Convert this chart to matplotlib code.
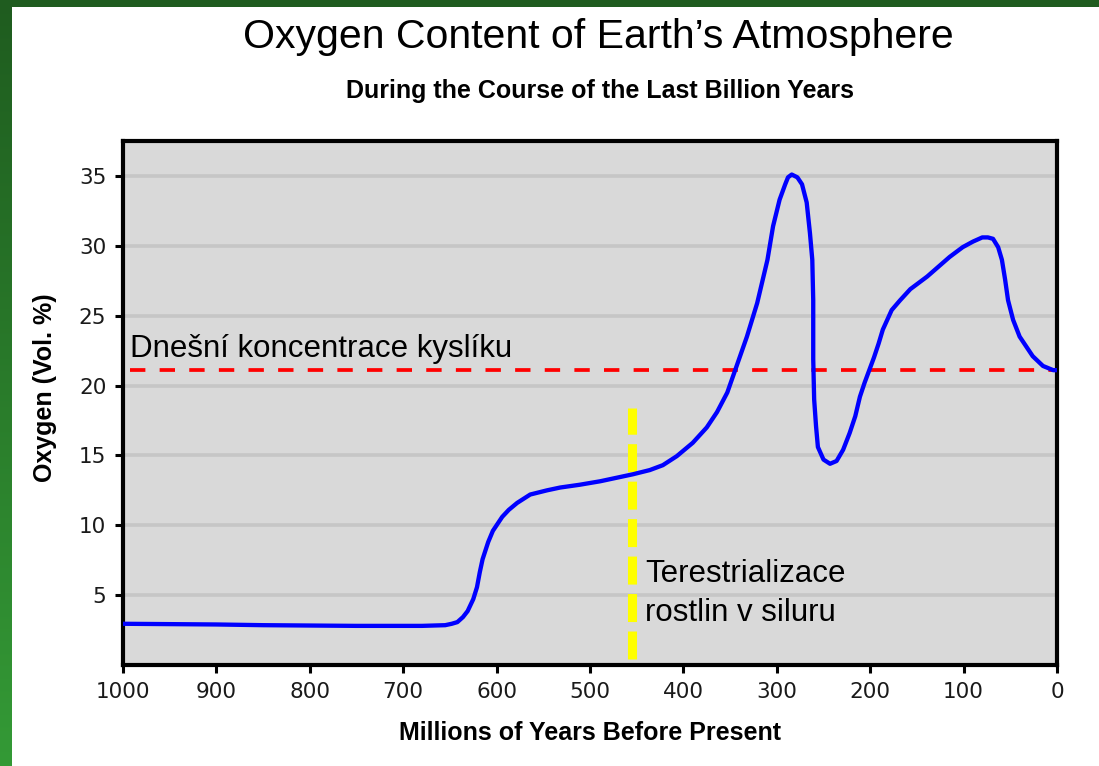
import numpy as np
import matplotlib as mpl
mpl.use('Agg')
import matplotlib.pyplot as plt
from matplotlib.colors import LinearSegmentedColormap

# Oxygen curve (millions of years before present, vol. %)
age = [1000, 900, 850, 750, 680, 655, 648, 642, 636, 631, 625, 621, 618, 615,
       609, 604, 600, 594, 587, 578, 564, 546, 532, 511, 489, 475, 454, 436,
       422, 407, 390, 375, 364, 353, 343, 332, 321, 310, 304, 297, 291, 288,
       284, 278, 273, 268, 264.5, 262, 261, 261, 260, 258, 256, 250, 243, 236,
       229, 222, 216, 211, 206, 201, 196, 191, 186.5, 177, 168, 157, 139, 115,
       101, 90, 80, 74, 68.5, 63, 59, 55.6, 52.4, 47, 40, 32, 26, 15, 4, 0]
oxygen = [2.95, 2.9, 2.85, 2.8, 2.8, 2.85, 2.95, 3.07, 3.43, 3.86, 4.71, 5.57,
          6.64, 7.57, 8.8, 9.6, 10.0, 10.6, 11.1, 11.6, 12.2, 12.5, 12.7,
          12.9, 13.15, 13.35, 13.65, 13.95, 14.3, 14.95, 15.9, 17.0, 18.1,
          19.5, 21.4, 23.5, 25.9, 29.0, 31.4, 33.3, 34.4, 34.9, 35.1, 34.9,
          34.4, 33.1, 30.9, 29.0, 26.1, 21.9, 19.0, 17.1, 15.6, 14.7, 14.4,
          14.6, 15.4, 16.6, 17.8, 19.2, 20.2, 21.1, 22.0, 23.0, 24.0, 25.4,
          26.1, 26.9, 27.8, 29.2, 29.9, 30.3, 30.6, 30.6, 30.5, 29.9, 29.0,
          27.6, 26.1, 24.7, 23.5, 22.7, 22.1, 21.4, 21.1, 21.1]

today_level = 21.1
today_label = 'Dnešní koncentrace kyslíku'
silurian_age = 455
silurian_span = [0.4, 18.4]
silurian_label = ['Terestrializace', 'rostlin v siluru']

x_ticks = list(range(0, 1001, 100))
y_ticks = [5, 10, 15, 20, 25, 30, 35]

title = 'Oxygen Content of Earth\u2019s Atmosphere'
subtitle = 'During the Course of the Last Billion Years'
xlabel = 'Millions of Years Before Present'
ylabel = 'Oxygen (Vol. %)'

W, H = 1099, 766
fig = plt.figure(figsize=(W / 100, H / 100), dpi=100, facecolor='white')

# green slide frame on the top and left edges
green = LinearSegmentedColormap.from_list('frame', ['#1f5c1f', '#349a36'])
side = fig.add_axes([0, 0, 12 / W, 1])
side.imshow(np.linspace(0, 1, 256).reshape(-1, 1), cmap=green, aspect='auto')
side.set_axis_off()
top = fig.add_axes([0, 1 - 7 / H, 1, 7 / H])
top.set_facecolor('#1f5c1f')
top.set_xticks([])
top.set_yticks([])
for s in top.spines.values():
    s.set_visible(False)

ax = fig.add_axes([123 / W, 1 - 665 / H, (1057 - 123) / W, (665 - 141) / H])
ax.set_facecolor('#d9d9d9')
ax.set_xlim(1000, 0)
ax.set_ylim(0, 37.5)
ax.set_xticks(x_ticks)
ax.set_yticks(y_ticks)
ax.tick_params(direction='out', length=6, width=2.2, color='black',
               labelsize=15.5, labelcolor='#1a1a1a', pad=6)
for s in ax.spines.values():
    s.set_linewidth(3)
    s.set_color('black')
ax.yaxis.grid(True, color='#c6c6c6', linewidth=2.6)
ax.set_axisbelow(True)

# today's level and the Silurian marker
ax.plot([993, 0], [today_level, today_level], color='#ff0000', lw=2.7,
        dashes=(4.1, 3.8), zorder=3)
ax.plot([silurian_age, silurian_age], silurian_span, color='#ffff00', lw=6.5,
        dashes=(3.1, 1.05), zorder=3)
ax.plot(age, oxygen, color='#0000ff', lw=3.1, solid_joinstyle='round',
        solid_capstyle='round', zorder=4)

ann_font = dict(family='Liberation Sans', fontsize=22.5, color='black')
ax.text(992, 22.07, today_label, va='baseline', **ann_font)
ax.text(441, 5.93, silurian_label[0], va='baseline', **ann_font)
ax.text(441, 3.14, silurian_label[1], va='baseline', **ann_font)

fig.text(598 / W, 1 - 48 / H, title, ha='center', va='baseline',
         family='Liberation Sans', fontsize=29.5)
fig.text(600 / W, 1 - 98 / H, subtitle, ha='center', va='baseline',
         family='Liberation Sans', fontsize=18, fontweight='bold')
fig.text(590 / W, 1 - 740 / H, xlabel, ha='center', va='baseline',
         family='Liberation Sans', fontsize=18, fontweight='bold')
fig.text(45 / W, 1 - 388 / H, ylabel, ha='center', va='center', rotation=90,
         family='Liberation Sans', fontsize=18, fontweight='bold')

fig.savefig('out.png', dpi=100, facecolor='white')
